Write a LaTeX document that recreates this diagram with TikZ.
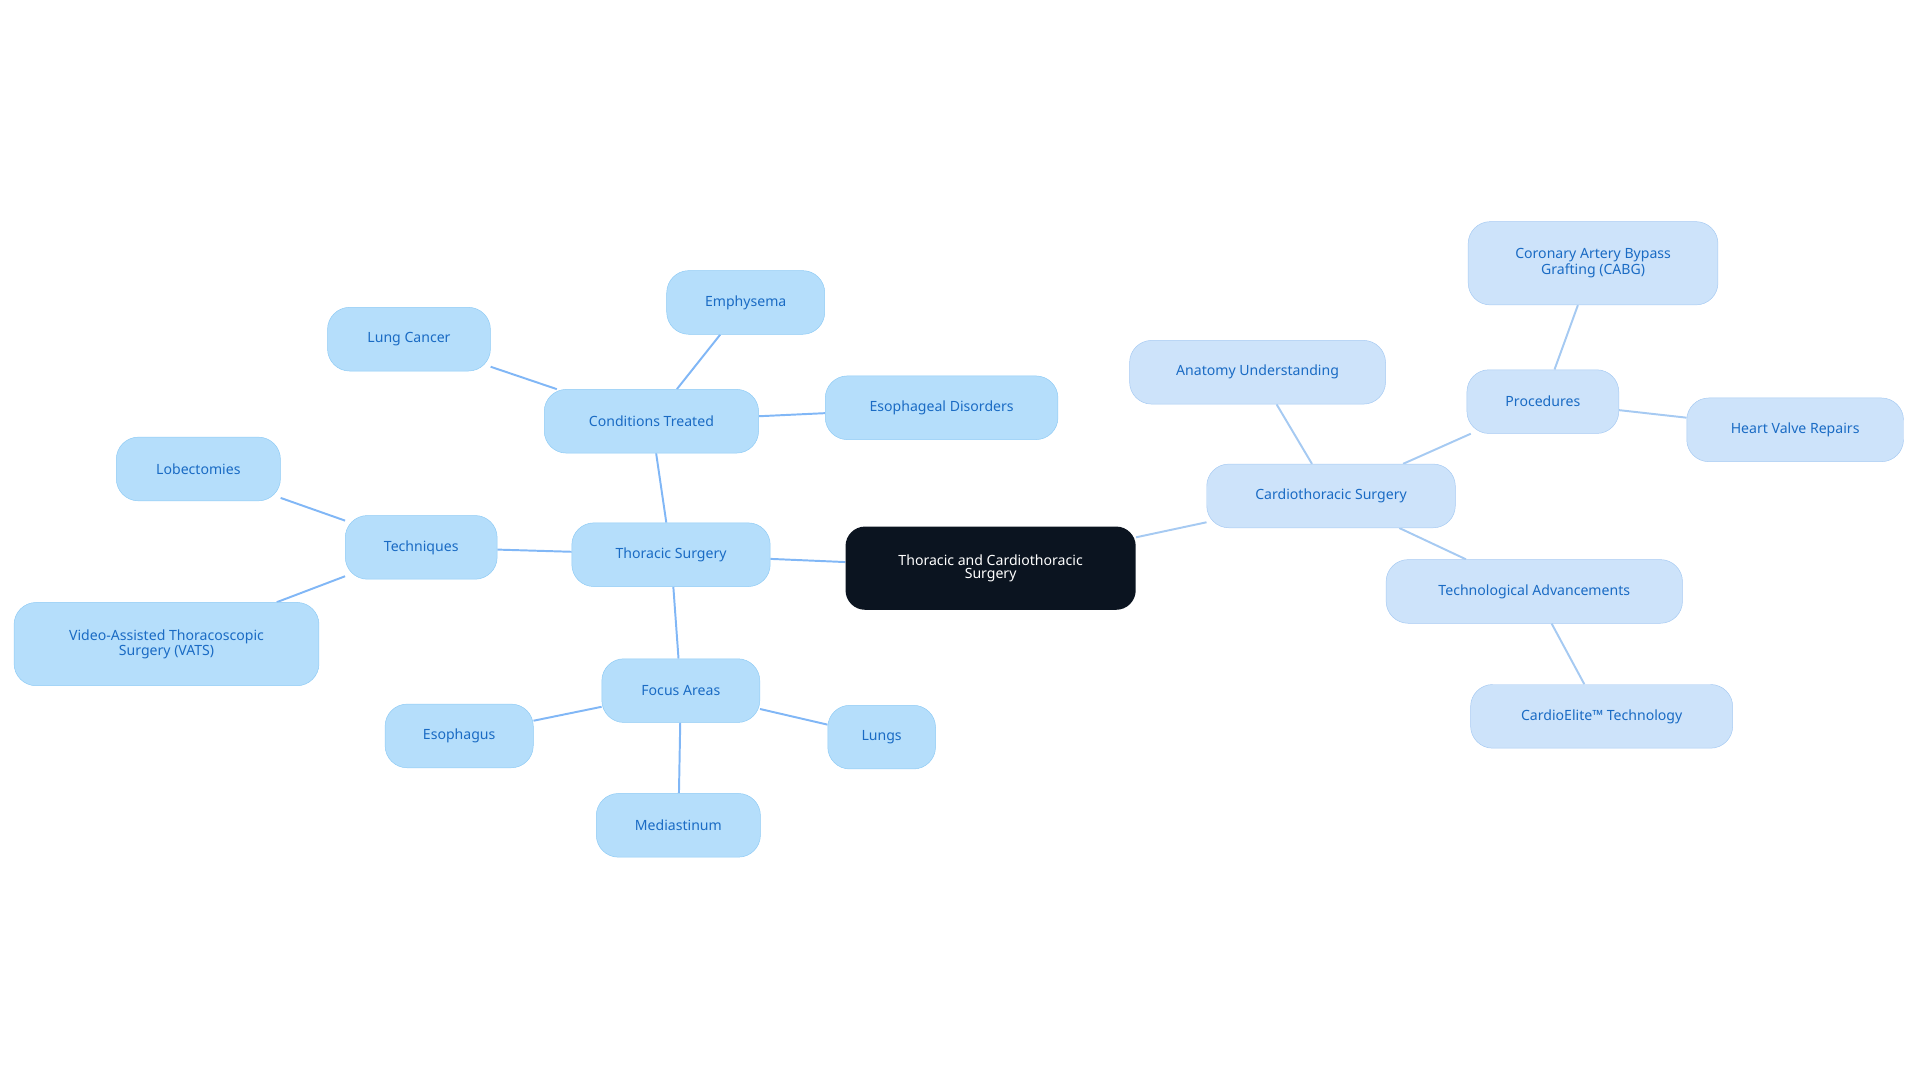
\documentclass[tikz,border=0pt]{standalone}
\usepackage{fontspec}
\setmainfont{Noto Sans}
\usetikzlibrary{backgrounds}
\definecolor{rootfill}{HTML}{0B1420}
\definecolor{leftfill}{HTML}{B5DEFB}
\definecolor{leftline}{HTML}{8FCBF5}
\definecolor{rightfill}{HTML}{CDE3FA}
\definecolor{rightline}{HTML}{A6CAF2}
\definecolor{labeltext}{HTML}{1A6BC4}
\begin{document}
\begin{tikzpicture}[x=1pt, y=-1pt, font=\fontsize{11.5}{11}\selectfont,
    root/.style = {fill=rootfill, text=white, rounded corners=16pt, minimum height=68pt, align=center},
    leaf/.style = {fill=leftfill, draw=leftline, text=labeltext, rounded corners=18pt, minimum height=52pt, align=center},
    rleaf/.style = {fill=rightfill, draw=rightline, text=labeltext, rounded corners=18pt, minimum height=52pt, align=center},
    ledge/.style = {draw=leftline!90!blue, line width=1.6pt},
    redge/.style = {draw=rightline, line width=1.6pt}]
    \useasboundingbox (0,0) rectangle (1568,884);
    \node[root, minimum width=237pt] (root) at (809,464) {Thoracic and Cardiothoracic\\Surgery};

    \node[leaf, minimum width=162pt] (thor) at (548,453) {Thoracic Surgery};
    \node[leaf, minimum width=175pt] (cond) at (532,344) {Conditions Treated};
    \node[leaf, minimum width=129pt] (emph) at (609,247) {Emphysema};
    \node[leaf, minimum width=133pt] (lcan) at (334,277) {Lung Cancer};
    \node[leaf, minimum width=190pt] (esod) at (769,333) {Esophageal Disorders};
    \node[leaf, minimum width=124pt] (tech) at (344,447) {Techniques};
    \node[leaf, minimum width=134pt] (lobe) at (162,383) {Lobectomies};
    \node[leaf, minimum width=249pt, minimum height=68pt] (vats) at (136,526) {Video-Assisted Thoracoscopic\\Surgery (VATS)};
    \node[leaf, minimum width=129pt] (focu) at (556,564) {Focus Areas};
    \node[leaf, minimum width=121pt] (esop) at (375,601) {Esophagus};
    \node[leaf, minimum width=88pt] (lung) at (720,602) {Lungs};
    \node[leaf, minimum width=134pt] (medi) at (554,674) {Mediastinum};

    \node[rleaf, minimum width=203pt] (card) at (1087,405) {Cardiothoracic Surgery};
    \node[rleaf, minimum width=209pt] (anat) at (1027,304) {Anatomy Understanding};
    \node[rleaf, minimum width=124pt] (proc) at (1260,328) {Procedures};
    \node[rleaf, minimum width=204pt, minimum height=68pt] (cabg) at (1301,215) {Coronary Artery Bypass\\Grafting (CABG)};
    \node[rleaf, minimum width=177pt] (hear) at (1466,351) {Heart Valve Repairs};
    \node[rleaf, minimum width=242pt] (tadv) at (1253,483) {Technological Advancements};
    \node[rleaf, minimum width=214pt] (elit) at (1308,585) {CardioElite™ Technology};

    \begin{scope}[on background layer]
    \draw[ledge] (root) -- (thor);
    \draw[ledge] (thor) -- (cond);
    \draw[ledge] (cond) -- (emph);
    \draw[ledge] (cond) -- (lcan);
    \draw[ledge] (cond) -- (esod);
    \draw[ledge] (thor) -- (tech);
    \draw[ledge] (tech) -- (lobe);
    \draw[ledge] (tech) -- (vats);
    \draw[ledge] (thor) -- (focu);
    \draw[ledge] (focu) -- (esop);
    \draw[ledge] (focu) -- (lung);
    \draw[ledge] (focu) -- (medi);

    \draw[redge] (root) -- (card);
    \draw[redge] (card) -- (anat);
    \draw[redge] (card) -- (proc);
    \draw[redge] (proc) -- (cabg);
    \draw[redge] (proc) -- (hear);
    \draw[redge] (card) -- (tadv);
    \draw[redge] (tadv) -- (elit);
    \end{scope}
\end{tikzpicture}
\end{document}
